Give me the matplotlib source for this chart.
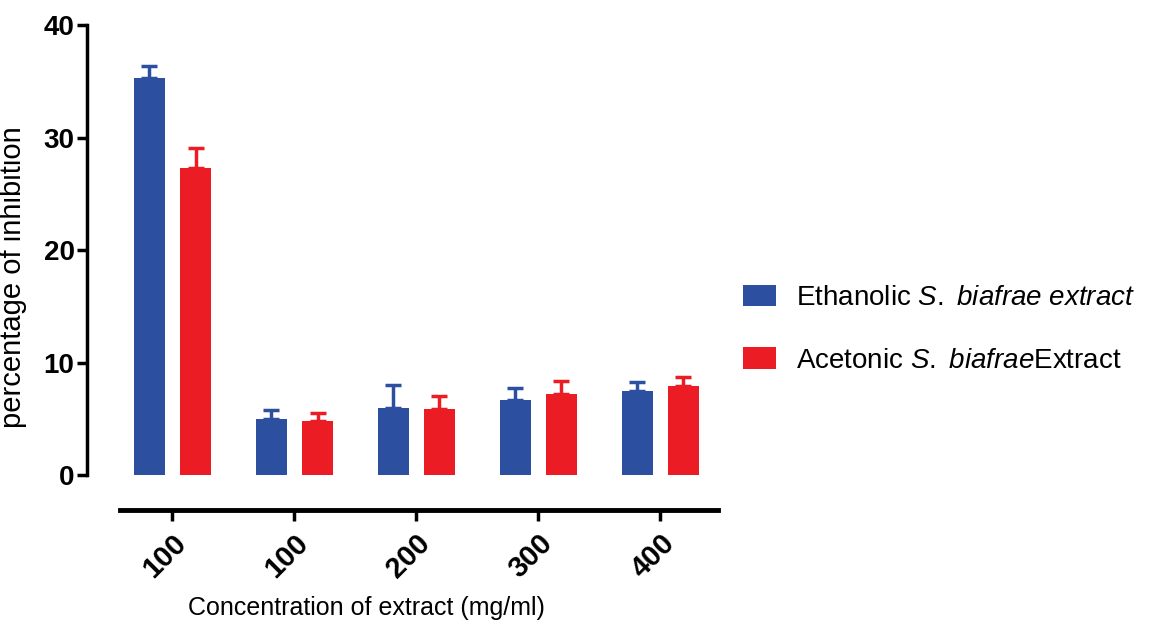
import numpy as np
import matplotlib.pyplot as plt
import matplotlib as mpl

mpl.rcParams['font.family'] = ['Liberation Sans', 'DejaVu Sans']
mpl.rcParams['mathtext.fontset'] = 'custom'
mpl.rcParams['mathtext.it'] = 'Liberation Sans:italic'
mpl.rcParams['mathtext.rm'] = 'Liberation Sans'

categories = ['100', '100', '200', '300', '400']
ethanolic = [35.3, 5.0, 6.0, 6.7, 7.5]
ethanolic_err = [1.1, 0.8, 2.0, 1.0, 0.8]
acetonic = [27.3, 4.8, 5.9, 7.2, 7.9]
acetonic_err = [1.8, 0.7, 1.1, 1.2, 0.8]

blue = '#2d4f9f'
red = '#ec1c24'

fig = plt.figure(figsize=(11.53, 6.27), dpi=100)
ax = fig.add_axes([0.0755, 0.2424, 0.55, 0.7176])

# GraphPad style: detached x axis
ax.spines['top'].set_visible(False)
ax.spines['right'].set_visible(False)
ax.spines['left'].set_linewidth(2.5)
ax.spines['bottom'].set_linewidth(3.5)
ax.spines['bottom'].set_position(('outward', 25))
ax.spines['bottom'].set_bounds(-0.43, 4.47)

x = np.arange(len(categories))
w = 0.255
off = 0.19

ax.bar(x - off, ethanolic, w, color=blue, label=r'Ethanolic $\mathit{S.\ biafrae\ extract}$',
       yerr=[np.zeros(5), ethanolic_err], error_kw=dict(ecolor=blue, elinewidth=2.5, capsize=6, capthick=2.5))
ax.bar(x + off, acetonic, w, color=red, label=r'Acetonic $\mathit{S.\ biafrae}$Extract',
       yerr=[np.zeros(5), acetonic_err], error_kw=dict(ecolor=red, elinewidth=2.5, capsize=6, capthick=2.5))

ax.set_xlim(-0.70, 4.5)
ax.set_ylim(0, 40)
ax.set_yticks([0, 10, 20, 30, 40])
ax.set_xticks(x)
ax.set_xticklabels(categories, rotation=45, ha='right', rotation_mode='anchor',
                   fontsize=21, fontweight='bold')
for lab in ax.get_yticklabels():
    lab.set_fontsize(20)
    lab.set_fontweight('bold')

ax.tick_params(axis='y', width=2.5, length=7, pad=2)
ax.tick_params(axis='x', width=2.5, length=8, pad=6)

ax.set_ylabel('percentage of inhibition', fontsize=21)
ax.yaxis.set_label_coords(-0.095, 0.44)
ax.set_xlabel('Concentration of extract (mg/ml)', fontsize=18)
ax.xaxis.set_label_coords(0.44, -0.27)

fig.legend(*ax.get_legend_handles_labels(), loc='center left', bbox_to_anchor=(0.644, 0.475),
           bbox_transform=fig.transFigure, frameon=False, fontsize=20,
           borderaxespad=0, borderpad=0,
           handlelength=1.22, handleheight=0.83, labelspacing=1.3, handletextpad=0.72)

plt.savefig('out.png', dpi=100)
